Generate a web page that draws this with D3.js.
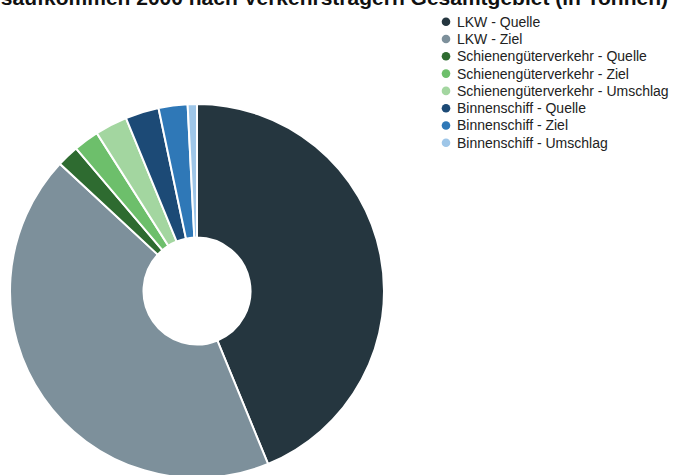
<!DOCTYPE html>
<html>
<head>
<meta charset="utf-8">
<script src="https://cdn.jsdelivr.net/npm/d3@7/dist/d3.min.js"></script>
<style>
  html, body { margin: 0; padding: 0; background: #fff; }
  svg { display: block; }
</style>
</head>
<body>
<svg id="chart" width="673" height="475"></svg>
<script>
// Güterverkehrsaufkommen 2000 – Anteile je Verkehrsträger (in %)
const titleText = "Güterverkehrsaufkommen 2000 nach Verkehrsträgern Gesamtgebiet (in Tonnen)";
const categories = [
  "LKW - Quelle",
  "LKW - Ziel",
  "Schienengüterverkehr - Quelle",
  "Schienengüterverkehr - Ziel",
  "Schienengüterverkehr - Umschlag",
  "Binnenschiff - Quelle",
  "Binnenschiff - Ziel",
  "Binnenschiff - Umschlag"
];
const values = [43.8, 43.1, 1.9, 2.2, 2.8, 2.9, 2.5, 0.8];
const colors = ["#25363f", "#7d909b", "#2e6b30", "#6dbf6b", "#a3d6a0", "#1c4a76", "#2f78b7", "#9ec6e8"];

const svg = d3.select("#chart");
const W = 673, H = 475;
const cx = 197, cy = 291, outerR = 187, innerR = 53.5;

const data = categories.map((c, i) => ({ name: c, value: values[i] }));
const color = d3.scaleOrdinal().domain(categories).range(colors);

const pie = d3.pie().value(d => d.value).sort(null);
const arc = d3.arc().innerRadius(innerR).outerRadius(outerR);

svg.append("g")
  .attr("transform", `translate(${cx},${cy})`)
  .selectAll("path")
  .data(pie(data))
  .join("path")
  .attr("d", arc)
  .attr("fill", d => color(d.data.name))
  .attr("stroke", "#fff")
  .attr("stroke-width", 2);

// Title (runs off the top/left of the canvas)
svg.append("text")
  .attr("x", 668)
  .attr("y", 5)
  .attr("text-anchor", "end")
  .attr("font-family", "Liberation Sans, Arial, sans-serif")
  .attr("font-weight", "bold")
  .attr("font-size", 21)
  .attr("fill", "#111")
  .text(titleText);

// Legend
const legend = svg.append("g").attr("transform", "translate(446,21.7)");
const rowH = 17.3;
const items = legend.selectAll("g")
  .data(categories)
  .join("g")
  .attr("transform", (d, i) => `translate(0,${i * rowH})`);
items.append("circle")
  .attr("r", 4.3)
  .attr("fill", d => color(d));
items.append("text")
  .attr("x", 11)
  .attr("dy", "0.35em")
  .attr("font-family", "Liberation Sans, Arial, sans-serif")
  .attr("font-size", 14)
  .attr("fill", "#222")
  .text(d => d);
</script>
</body>
</html>
